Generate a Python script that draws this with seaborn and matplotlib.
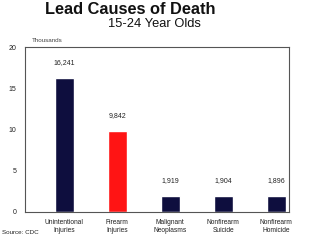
import matplotlib
matplotlib.use("Agg")
import matplotlib.pyplot as plt
import seaborn as sns
import pandas as pd

categories = ["Unintentional\nInjuries", "Firearm\nInjuries", "Malignant\nNeoplasms",
              "Nonfirearm\nSuicide", "Nonfirearm\nHomicide"]
values = [16.241, 9.842, 1.919, 1.904, 1.896]
value_labels = ["16,241", "9,842", "1,919", "1,904", "1,896"]
colors = ["#0e0e3e", "#ff1414", "#0e0e3e", "#0e0e3e", "#0e0e3e"]
yticks = [0, 5, 10, 15, 20]

sns.set_style("white")
plt.rcParams['font.family'] = ['Liberation Sans', 'DejaVu Sans']

df = pd.DataFrame({"cat": categories, "val": values})

fig = plt.figure(figsize=(3.2, 2.4), dpi=100)
ax = fig.add_axes([25/320, 1 - 212/240, (289-25)/320, (212-47)/240])
sns.barplot(data=df, x="cat", y="val", hue="cat", palette=colors, legend=False,
            width=0.36, ax=ax, saturation=1)
ax.set_xlim(-0.745, 4.245)
ax.set_ylim(0, 20)
ax.set_yticks(yticks)
ax.set_yticklabels([str(t) for t in yticks], fontsize=5, color="#222222")
ax.tick_params(axis="x", labelsize=4.8, length=0, pad=5, colors="#222222")
ax.tick_params(axis="y", length=0, pad=6)
ax.set_xlabel("")
ax.set_ylabel("")
for s in ax.spines.values():
    s.set_color("#555555")
    s.set_linewidth(0.8)

for i, (v, lab) in enumerate(zip(values, value_labels)):
    ax.text(i, v + 1.9, lab, ha="center", va="center", fontsize=5, color="#222222")

fig.text(130/320, 1 - 10/240, "Lead Causes of Death", ha="center", va="center",
         fontsize=11.8, fontweight="bold", color="#111111")
fig.text(154/320, 1 - 24/240, "15-24 Year Olds", ha="center", va="center",
         fontsize=9.3, color="#111111")
fig.text(32/320, 1 - 41/240, "Thousands", ha="left", va="center",
         fontsize=4.5, color="#444444")
fig.text(2/320, 1 - 232/240, "Source: CDC", ha="left", va="center",
         fontsize=4.5, color="#222222")

fig.savefig("out.png", dpi=100)
